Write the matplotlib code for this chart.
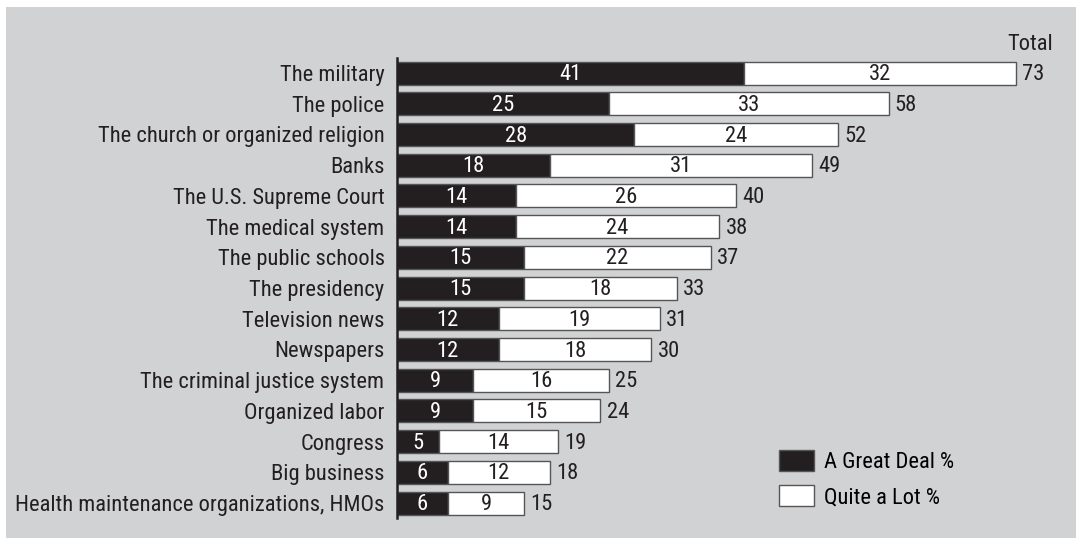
import matplotlib.pyplot as plt
from matplotlib.patches import Rectangle, Patch
from matplotlib import font_manager

institutions = [
    "The military", "The police", "The church or organized religion", "Banks",
    "The U.S. Supreme Court", "The medical system", "The public schools",
    "The presidency", "Television news", "Newspapers",
    "The criminal justice system", "Organized labor", "Congress",
    "Big business", "Health maintenance organizations, HMOs",
]
great_deal = [41, 25, 28, 18, 14, 14, 15, 15, 12, 12, 9, 9, 5, 6, 6]
quite_a_lot = [32, 33, 24, 31, 26, 24, 22, 18, 19, 18, 16, 15, 14, 12, 9]
totals = [73, 58, 52, 49, 40, 38, 37, 33, 31, 30, 25, 24, 19, 18, 15]

names = {f.name for f in font_manager.fontManager.ttflist}
fam = [n for n in ["Liberation Sans Narrow", "DejaVu Sans Condensed", "Roboto Condensed"] if n in names]
plt.rcParams["font.family"] = fam + ["DejaVu Sans"]

W, H = 1076, 538
fig = plt.figure(figsize=(W / 100, H / 100), dpi=100)
fig.patch.set_facecolor("white")
bg = "#d1d2d4"
fig.patches.append(Rectangle((6 / W, 0), 1, 1 - 7 / H, transform=fig.transFigure,
                             facecolor=bg, edgecolor="none", zorder=-10))

ax = fig.add_axes([397 / W, 1 - 518.4 / H, 661 / W, 460.7 / H])
ax.set_facecolor("none")

black = "#231f20"
edge = "#555555"
fs = 16.2
y = list(range(len(institutions)))
ax.barh(y, great_deal, height=0.75, color=black, edgecolor=edge, linewidth=1)
ax.barh(y, quite_a_lot, left=great_deal, height=0.75, color="white",
        edgecolor=edge, linewidth=1)

for i in y:
    ax.text(great_deal[i] / 2, i + 0.05, str(great_deal[i]), color="white",
            ha="center", va="center", fontsize=fs)
    ax.text(great_deal[i] + quite_a_lot[i] / 2, i + 0.05, str(quite_a_lot[i]),
            color=black, ha="center", va="center", fontsize=fs)
    ax.text(totals[i] + 0.75, i + 0.05, str(totals[i]), color=black,
            ha="left", va="center", fontsize=fs)

ax.set_xlim(0, 78)
ax.set_ylim(len(institutions) - 0.5, -0.5)
ax.set_yticks(y)
ax.set_yticklabels(institutions, fontsize=fs, color=black)
ax.tick_params(axis="y", length=0, pad=9)
ax.set_xticks([])
for side in ["top", "right", "bottom"]:
    ax.spines[side].set_visible(False)
ax.spines["left"].set_color(black)
ax.spines["left"].set_linewidth(1.8)

fig.text(1053 / W, 1 - 44 / H, "Total", ha="right", va="center",
         fontsize=fs, color=black)

handles = [Patch(facecolor=black, edgecolor=edge, label="A Great Deal %"),
           Patch(facecolor="white", edgecolor=edge, label="Quite a Lot %")]
fig.legend(handles=handles, loc="upper left", bbox_to_anchor=(761 / W, 1 - 432 / H),
           frameon=False, fontsize=fs, handlelength=1.55, handleheight=1.05,
           labelspacing=0.55, handletextpad=0.45, borderpad=0.3)

fig.savefig("out.png", dpi=100, facecolor=fig.get_facecolor())
